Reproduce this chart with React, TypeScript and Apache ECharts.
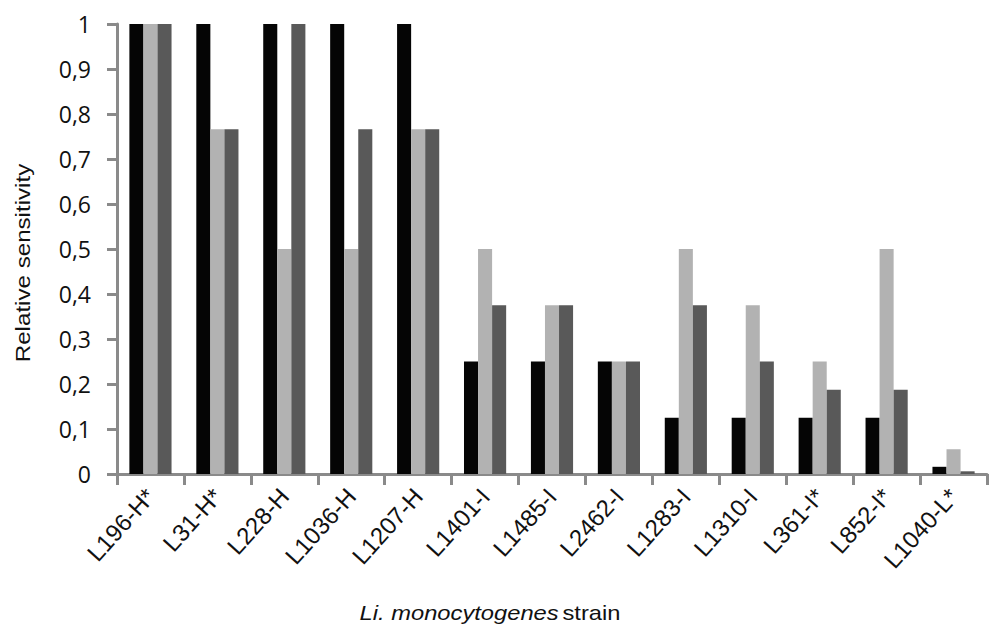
import React, { useEffect, useRef } from "react";
import * as echarts from "echarts";

const categories = ["L196-H*", "L31-H*", "L228-H", "L1036-H", "L1207-H", "L1401-I", "L1485-I", "L2462-I", "L1283-I", "L1310-I", "L361-I*", "L852-I*", "L1040-L*"];
const seriesBlack = [1, 1, 1, 1, 1, 0.25, 0.25, 0.25, 0.125, 0.125, 0.125, 0.125, 0.016];
const seriesLight = [1, 0.766, 0.5, 0.5, 0.766, 0.5, 0.375, 0.25, 0.5, 0.375, 0.25, 0.5, 0.055];
const seriesDark = [1, 0.766, 1, 0.766, 0.766, 0.375, 0.375, 0.25, 0.375, 0.25, 0.1875, 0.1875, 0.006];
const yTicks = [0, 0.1, 0.2, 0.3, 0.4, 0.5, 0.6, 0.7, 0.8, 0.9, 1];

export default function App() {
  const ref = useRef<HTMLDivElement>(null);
  useEffect(() => {
    const chart = echarts.init(ref.current!, null, { renderer: "svg" });
    const axisColor = "#8a8a8a";
    const gap = "37%";
    chart.setOption({
      animation: false,
      backgroundColor: "#ffffff",
      textStyle: { fontFamily: "Liberation Sans" },
      grid: { left: 117, right: 21, top: 24, bottom: 154, containLabel: false },
      xAxis: {
        type: "category",
        data: categories,
        axisLine: { lineStyle: { color: axisColor, width: 3 } },
        axisTick: { show: true, length: 11, lineStyle: { color: axisColor, width: 3 } },
        axisLabel: {
          rotate: 48,
          interval: 0,
          color: "#111",
          fontSize: 24,
          fontFamily: "Liberation Sans",
          margin: 18,
        },
      },
      yAxis: {
        type: "value",
        min: 0,
        max: 1,
        interval: 0.1,
        splitLine: { show: false },
        axisLine: { show: true, lineStyle: { color: axisColor, width: 3 } },
        axisTick: { show: true, length: 10, lineStyle: { color: axisColor, width: 3 } },
        axisLabel: {
          color: "#111",
          fontSize: 23,
          fontFamily: "Open Sans",
          margin: 26,
          formatter: (v: number) => {
            const t = yTicks.find((x) => Math.abs(x - v) < 1e-6);
            const val = t === undefined ? v : t;
            return String(Math.round(val * 10) / 10).replace(".", ",");
          },
        },
      },
      series: [
        { type: "bar", data: seriesBlack, itemStyle: { color: "#050505" }, barGap: "0%", barCategoryGap: gap },
        { type: "bar", data: seriesLight, itemStyle: { color: "#b2b2b2" }, barGap: "0%", barCategoryGap: gap },
        { type: "bar", data: seriesDark, itemStyle: { color: "#595959" }, barGap: "0%", barCategoryGap: gap },
      ],
      graphic: [
        {
          type: "text",
          x: 23,
          y: 263,
          rotation: Math.PI / 2,
          scaleX: 1.15,
          style: {
            text: "Relative sensitivity",
            fontSize: 21,
            fontFamily: "Liberation Sans",
            fill: "#111",
            align: "center",
            verticalAlign: "middle",
          },
        },
        {
          type: "text",
          x: 490,
          y: 613,
          scaleX: 1.13,
          style: {
            rich: {
              i: { fontStyle: "italic", fontSize: 21, fontFamily: "Liberation Sans", fill: "#111" },
              n: { fontSize: 21, fontFamily: "Liberation Sans", fill: "#111" },
            },
            text: "{i|Li. monocytogenes} {n|strain}",
            align: "center",
            verticalAlign: "middle",
          },
        },
      ],
    });
    return () => chart.dispose();
  }, []);
  return <div ref={ref} style={{ position: "fixed", left: 0, top: 0, width: 1008, height: 628 }} />;
}
